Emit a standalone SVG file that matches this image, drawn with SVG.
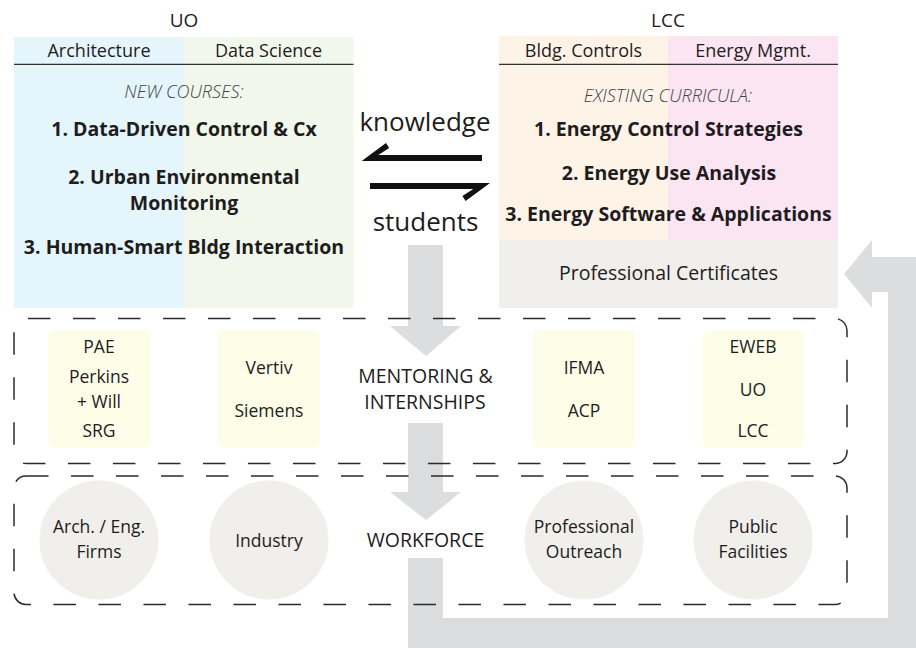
<svg xmlns="http://www.w3.org/2000/svg" width="916" height="648" viewBox="0 0 916 648">
<style>
text{font-family:"Open Sans","Noto Sans",sans-serif;fill:#1f1c1d;text-anchor:middle}
.hd{font-size:18px}
.ttl{font-size:19px}
.it{font-size:18px;font-style:italic;font-weight:300;fill:#444}
.b{font-size:19.5px;font-weight:700}
.big{font-size:26px}
.lab{font-size:19.5px}
.sm{font-size:17.5px}
.dash{fill:none;stroke:#2b2b2b;stroke-width:1.5;stroke-dasharray:22.5 22.5}
.ybox{fill:#fefde8}
.circ{fill:#f1efeb}
.flow{fill:#dcdddf}
.rule{stroke:#333;stroke-width:1.2}
</style>
<rect width="916" height="648" fill="#ffffff"/>
<g id="connectors">
<polygon class="flow" points="408,245 443,245 443,326 461,326 426,356 390,326 408,326"/>
<polygon class="flow" points="408,423 443,423 443,492 461,492 426,520 390,492 408,492"/>
<polygon class="flow" points="408,558 443,558 443,618 888,618 888,292 872,292 872,308 844,274 872,240 872,257 916,257 916,648 408,648"/>
<polygon fill="#111" points="361.7,161 482,161 482,155 378.3,155 389.2,148 386,143"/>
<polygon fill="#111" points="490,183 370,183 370,189 473.3,189 462.4,196 465.6,201"/>
</g>
<g id="uo">
<rect x="14" y="37" width="170" height="271" fill="#e4f5fc"/>
<rect x="184" y="37" width="169.5" height="271" fill="#f1f7ea"/>
<line class="rule" x1="14" y1="64.3" x2="353.5" y2="64.3"/>
<text class="ttl" x="184" y="27">UO</text>
<text class="hd" x="99" y="57">Architecture</text>
<text class="hd" x="268.5" y="57">Data Science</text>
<text class="it" x="184" y="98">NEW COURSES:</text>
<text class="b" x="184" y="136">1. Data-Driven Control &amp; Cx</text>
<text class="b" x="184" y="184">2. Urban Environmental</text>
<text class="b" x="184" y="210">Monitoring</text>
<text class="b" x="184" y="254">3. Human-Smart Bldg Interaction</text>
</g>
<g id="lcc">
<rect x="499" y="36" width="169" height="204" fill="#fdf3e7"/>
<rect x="668" y="36" width="170" height="204" fill="#fbe5f3"/>
<rect x="499" y="240" width="339" height="68" fill="#f1efeb"/>
<line class="rule" x1="499" y1="64.3" x2="838" y2="64.3"/>
<text class="ttl" x="668" y="27">LCC</text>
<text class="hd" x="583.5" y="57">Bldg. Controls</text>
<text class="hd" x="753" y="57">Energy Mgmt.</text>
<text class="it" x="668" y="102">EXISTING CURRICULA:</text>
<text class="b" x="668.5" y="136">1. Energy Control Strategies</text>
<text class="b" x="669" y="180">2. Energy Use Analysis</text>
<text class="b" x="668.5" y="221">3. Energy Software &amp; Applications</text>
<text class="lab" x="668.5" y="280">Professional Certificates</text>
</g>
<g id="exchange-labels">
<text class="big" x="425" y="131">knowledge</text>
<text class="big" x="425.5" y="231">students</text>
</g>
<g id="mentoring">
<rect class="dash" x="14" y="318.5" width="833" height="145" rx="12" stroke-dashoffset="-2"/>
<text class="lab" x="425.5" y="383">MENTORING &amp;</text>
<text class="lab" x="425" y="409">INTERNSHIPS</text>
</g>
<g id="firms-box">
<rect class="ybox" x="48" y="330" width="102" height="118" rx="8"/>
<text class="sm" x="99" y="353">PAE</text>
<text class="sm" x="99" y="383">Perkins</text>
<text class="sm" x="99" y="408">+ Will</text>
<text class="sm" x="99" y="437">SRG</text>
</g>
<g id="industry-box">
<rect class="ybox" x="218" y="330" width="102" height="118" rx="8"/>
<text class="sm" x="269" y="374">Vertiv</text>
<text class="sm" x="269" y="417">Siemens</text>
</g>
<g id="professional-box">
<rect class="ybox" x="533" y="330" width="102" height="118" rx="8"/>
<text class="sm" x="584" y="374">IFMA</text>
<text class="sm" x="584" y="417">ACP</text>
</g>
<g id="public-box">
<rect class="ybox" x="702.5" y="330" width="102" height="118" rx="8"/>
<text class="sm" x="753" y="353">EWEB</text>
<text class="sm" x="753" y="396">UO</text>
<text class="sm" x="753" y="437">LCC</text>
</g>
<g id="workforce">
<rect class="dash" x="14" y="476" width="833" height="128.5" rx="12"/>
<text class="lab" x="425.5" y="547">WORKFORCE</text>
</g>
<g id="arch-eng-firms">
<circle class="circ" cx="99" cy="540" r="59.5"/>
<text class="sm" x="99" y="533">Arch. / Eng.</text>
<text class="sm" x="99" y="558">Firms</text>
</g>
<g id="industry">
<circle class="circ" cx="269" cy="540" r="59.5"/>
<text class="sm" x="269" y="547">Industry</text>
</g>
<g id="professional-outreach">
<circle class="circ" cx="584" cy="540" r="59.5"/>
<text class="sm" x="584" y="533">Professional</text>
<text class="sm" x="584" y="558">Outreach</text>
</g>
<g id="public-facilities">
<circle class="circ" cx="753" cy="540" r="59.5"/>
<text class="sm" x="753" y="533">Public</text>
<text class="sm" x="753" y="558">Facilities</text>
</g>
</svg>
